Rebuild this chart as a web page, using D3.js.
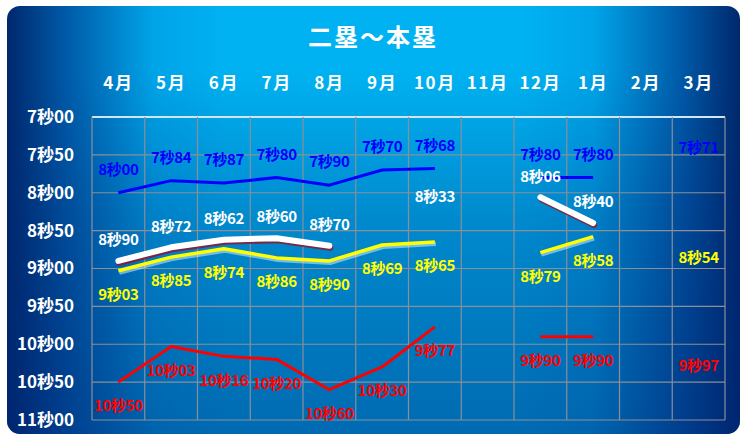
<!DOCTYPE html>
<html><head><meta charset="utf-8">
<script src="https://cdn.jsdelivr.net/npm/d3@7"></script>
<style>
html,body{margin:0;padding:0;background:#fff;}
svg{display:block;font-family:"Noto Sans CJK JP","Noto Sans",sans-serif;}
</style></head>
<body><svg id="c" width="747" height="439"></svg>
<script>
const months = ["4月","5月","6月","7月","8月","9月","10月","11月","12月","1月","2月","3月"];
const yTicks = [7, 7.5, 8, 8.5, 9, 9.5, 10, 10.5, 11];
const yTickLabels = ["7秒00","7秒50","8秒00","8秒50","9秒00","9秒50","10秒00","10秒50","11秒00"];
const blueVals   = [8.00, 7.84, 7.87, 7.80, 7.90, 7.70, 7.68, null, 7.80, 7.80, null, 7.71];
const whiteVals  = [8.90, 8.72, 8.62, 8.60, 8.70, null, 8.33, null, 8.06, 8.40, null, null];
const yellowVals = [9.03, 8.85, 8.74, 8.86, 8.90, 8.69, 8.65, null, 8.79, 8.58, null, 8.54];
const redVals    = [10.50, 10.03, 10.16, 10.20, 10.60, 10.30, 9.77, null, 9.90, 9.90, null, 9.97];
const title = "二塁～本塁";

const svg = d3.select("#c");
const defs = svg.append("defs");
const hg = defs.append("linearGradient").attr("id","hg").attr("x1",0).attr("x2",1).attr("y1",0).attr("y2",0);
[[0,"#00286c"],[0.08,"#005aa8"],[0.2,"#00a4e8"],[0.3,"#00b2f1"],[0.7,"#00b2f1"],[0.8,"#00a4e8"],[0.92,"#005aa8"],[1,"#00286c"]]
  .forEach(s=>hg.append("stop").attr("offset",s[0]).attr("stop-color",s[1]));
const vg = defs.append("linearGradient").attr("id","vg").attr("x1",0).attr("x2",0).attr("y1",0).attr("y2",1);
[[0,0],[0.15,0],[0.5,0.28],[1,0.5]]
  .forEach(s=>vg.append("stop").attr("offset",s[0]).attr("stop-color","#002272").attr("stop-opacity",s[1]));

svg.append("rect").attr("x",7).attr("y",6).attr("width",733).attr("height",428)
  .attr("rx",13).attr("fill","url(#hg)");
svg.append("rect").attr("x",7).attr("y",6).attr("width",733).attr("height",428)
  .attr("rx",13).attr("fill","url(#vg)");

const x = d3.scaleBand().domain(months).range([92,725]);
const y = d3.scaleLinear().domain([7,11]).range([117,420]);

// grid
const g = svg.append("g");
g.selectAll("line.h").data(yTicks).join("line").attr("class","h")
  .attr("x1",92).attr("x2",725).attr("y1",d=>y(d)).attr("y2",d=>y(d))
  .attr("stroke",(d,i)=>i===0?"#cfe6f7":"#8a8f99").attr("stroke-width",(d,i)=>i===0?2:1.2);
const vEdges = months.map(m=>x(m)).concat([x(months[months.length-1])+x.bandwidth()]);
g.selectAll("line.v").data(vEdges).join("line").attr("class","v")
  .attr("x1",d=>d).attr("x2",d=>d).attr("y1",y(7)).attr("y2",y(11))
  .attr("stroke","#8a8f99").attr("stroke-width",1.2);

// y axis labels
const ya = svg.append("g").attr("transform","translate(74,0)")
  .call(d3.axisLeft(y).tickValues(yTicks).tickFormat((d,i)=>yTickLabels[i]).tickSize(0).tickPadding(0));
ya.attr("font-family",null).attr("font-size",null);
ya.select(".domain").remove();
ya.selectAll("text").attr("fill","#fff").attr("font-size",17).attr("font-weight","bold")
  .style("font-family",'"Noto Sans CJK JP",sans-serif');

// month axis
const xa = svg.append("g").attr("transform","translate(0,83)")
  .call(d3.axisTop(x).tickSize(0).tickPadding(0));
xa.attr("font-family",null).attr("font-size",null);
xa.select(".domain").remove();
xa.selectAll("text").attr("fill","#fff").attr("font-size",17).attr("font-weight","bold")
  .attr("letter-spacing","1.5").attr("dy","0.35em").style("font-family",'"Noto Sans CJK JP",sans-serif');

// title
svg.append("text").attr("x",373).attr("y",38).attr("dy","0.35em").attr("text-anchor","middle")
  .attr("fill","#fff").attr("font-size",24).attr("font-weight","bold").attr("letter-spacing","2").text(title);

const cx = i => x(months[i]) + x.bandwidth()/2;
const line = d3.line().defined(d=>d!=null).x((d,i)=>cx(i)).y(d=>y(d));
const fmt = v => Math.floor(v + 1e-9) + "秒" + String(Math.round((v - Math.floor(v+1e-9))*100)).padStart(2,"0");
// values that belong to a segment (isolated points get a label only)
const seg = vals => vals.map((v,i)=> v!=null && (vals[i-1]!=null || vals[i+1]!=null) ? v : null);

// shadows
svg.append("path").datum(seg(whiteVals)).attr("d",line).attr("fill","none")
  .attr("stroke","#8a1a30").attr("stroke-width",6).attr("stroke-linecap","round")
  .attr("transform","translate(1,2)").attr("opacity",0.85);
svg.append("path").datum(seg(yellowVals)).attr("d",line).attr("fill","none")
  .attr("stroke","#cfeefc").attr("stroke-width",4)
  .attr("transform","translate(1,2)").attr("opacity",0.55);

const series = [
  {vals: blueVals, color:"#0000ff", w:3, off:-23},
  {vals: redVals, color:"#ff0000", w:3, off:24},
  {vals: yellowVals, color:"#ffff00", w:3.5, off:24},
  {vals: whiteVals, color:"#ffffff", w:6, off:-21}
];
series.forEach(s=>{
  svg.append("path").datum(seg(s.vals)).attr("d",line).attr("fill","none")
    .attr("stroke",s.color).attr("stroke-width",s.w)
    .attr("stroke-linecap", s.w>5 ? "round" : "butt").attr("stroke-linejoin","round");
});
series.forEach(s=>{
  svg.append("g").selectAll("text").data(s.vals.map((v,i)=>({v,i})).filter(d=>d.v!=null))
    .join("text")
    .attr("x",d=>cx(d.i)).attr("y",d=>y(d.v) + s.off)
    .attr("dy","0.35em").attr("text-anchor","middle")
    .attr("fill",s.color).attr("font-size",15).attr("font-weight","bold")
    .attr("letter-spacing","-0.3")
    .text(d=>fmt(d.v));
});
</script></body></html>
